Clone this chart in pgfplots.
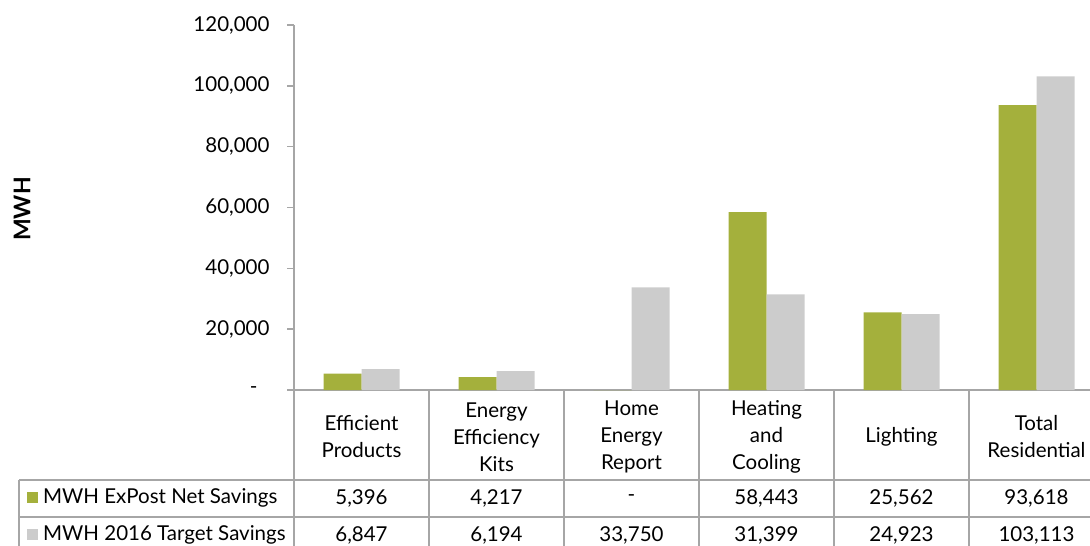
\documentclass[border=0pt]{standalone}
\usepackage{fontspec}
\setmainfont{Lato}
\usepackage{pgfplots}
\usepackage{pgfplotstable}
\pgfplotsset{compat=1.18}

\definecolor{netgreen}{HTML}{A4B03C}
\definecolor{targetgray}{HTML}{CCCCCC}
\definecolor{rulegray}{HTML}{A6A6A6}

% Residential savings by program (MWh)
\pgfplotstableread{
x net target
0 5396 6847
1 4217 6194
2 0 33750
3 58443 31399
4 25562 24923
5 93618 103113
}\savings

\pgfkeys{/pgf/number format/.cd, fixed, precision=0, 1000 sep={,}, assume math mode=true}

\begin{document}
\begin{tikzpicture}[x=1pt, y=1pt, font=\fontsize{20.5}{27}\selectfont]
\useasboundingbox (0,0) rectangle (1090,-546);
\clip (0,0) rectangle (1090,-546);
\begin{axis}[
  at={(294pt,-390pt)}, anchor=south west,
  scale only axis, width=810pt, height=365pt,
  xmin=-0.5, xmax=5.5, ymin=0, ymax=120000,
  ybar=0pt, bar width=38pt,
  axis lines=left,
  axis line style={-, draw=rulegray, line width=1.5pt},
  xtick=\empty,
  scaled y ticks=false,
  ytick={0,20000,40000,60000,80000,100000,120000},
  yticklabels={{-\rule{12pt}{0pt}},{20,000},{40,000},{60,000},{80,000},{100,000},{120,000}},
  tick align=outside, major tick length=7pt,
  ytick style={draw=rulegray, line width=1.5pt},
  yticklabel style={font=\fontsize{20.5}{24}\selectfont, text=black, xshift=-14pt},
]
\addplot[fill=netgreen, draw=none] table[x=x, y=net] {\savings};
\addplot[fill=targetgray, draw=none] table[x=x, y=target] {\savings};
\end{axis}

% y-axis title
\node[rotate=90, font=\fontsize{23}{26}\selectfont\bfseries] at (22,-209) {MWH};

% data table grid
\begin{scope}[draw=rulegray, line width=1.5pt]
  \draw (19,-480) -- (1110,-480);
  \draw (19,-517) -- (1110,-517);
  \draw (19,-554) -- (1110,-554);
  \draw (19,-480) -- (19,-560);
  \foreach \k in {0,...,6} \draw ({294+135*\k},-390) -- ({294+135*\k},-560);
\end{scope}

% category names
\foreach \lab [count=\k from 0] in {{Efficient\\Products}, {Energy\\Efficiency\\Kits}, {Home\\Energy\\Report}, {Heating\\and\\Cooling}, {Lighting}, {Total\\Residential}}
  \node[align=center, inner sep=0pt] at ({294+135*(\k+0.5)}, -437) {\lab};

% series keys
\fill[netgreen] (27,-492) rectangle (38,-503);
\node[anchor=west, inner sep=0pt] at (43,-498) {MWH ExPost Net Savings};
\fill[targetgray] (27,-529) rectangle (38,-540);
\node[anchor=west, inner sep=0pt] at (43,-535) {MWH 2016 Target Savings};

% table values
\foreach \k in {0,...,5} {
  \pgfplotstablegetelem{\k}{net}\of\savings
  \let\v\pgfplotsretval
  \node[inner sep=0pt] at ({294+135*(\k+0.5)}, -498) {\ifnum\v=0 -\else\pgfmathprintnumber{\v}\fi};
  \pgfplotstablegetelem{\k}{target}\of\savings
  \let\v\pgfplotsretval
  \node[inner sep=0pt] at ({294+135*(\k+0.5)}, -535) {\ifnum\v=0 -\else\pgfmathprintnumber{\v}\fi};
}
\end{tikzpicture}
\end{document}
